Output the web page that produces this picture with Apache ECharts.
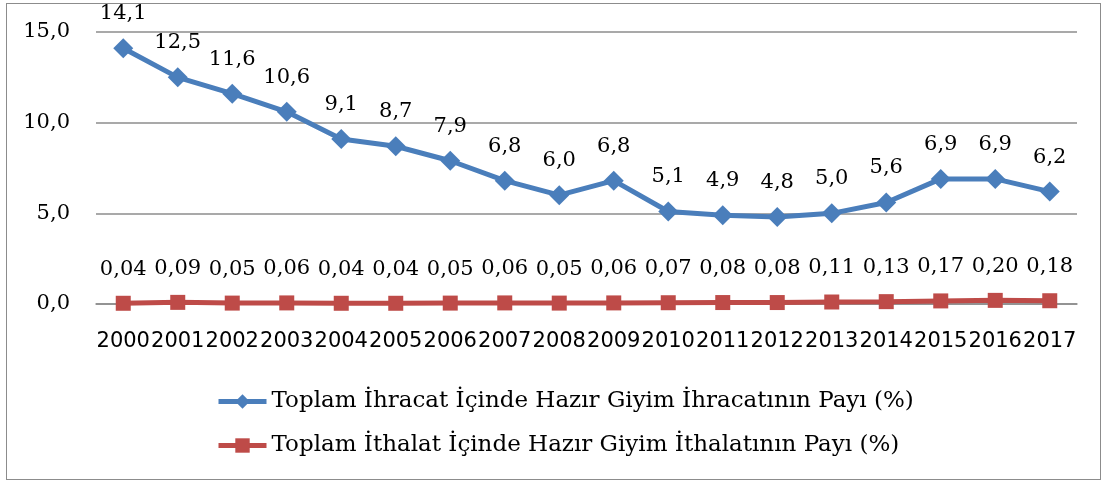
<!DOCTYPE html>
<html>
<head>
<meta charset="utf-8">
<script src="https://cdn.jsdelivr.net/npm/echarts@6/dist/echarts.min.js"></script>
<style>
  html, body { margin: 0; padding: 0; background: #fff; }
  #frame { position: absolute; left: 6px; top: 3px; width: 1093px; height: 475px; border: 1px solid #8c8c8c; }
  #chart { position: absolute; left: 0; top: 0; width: 1106px; height: 481px; }
</style>
</head>
<body>
<div id="frame"></div>
<div id="chart"></div>
<script>
var years = ['2000', '2001', '2002', '2003', '2004', '2005', '2006', '2007', '2008',
  '2009', '2010', '2011', '2012', '2013', '2014', '2015', '2016', '2017']
var ihracatPayi = [14.1, 12.5, 11.6, 10.6, 9.1, 8.7, 7.9, 6.8, 6.0, 6.8, 5.1, 4.9, 4.8, 5.0, 5.6, 6.9, 6.9, 6.2]
var ithalatPayi = [0.04, 0.09, 0.05, 0.06, 0.04, 0.04, 0.05, 0.06, 0.05, 0.06, 0.07, 0.08, 0.08, 0.11, 0.13, 0.17, 0.20, 0.18]
var seriesNames = ['Toplam İhracat İçinde Hazır Giyim İhracatının Payı (%)',
  'Toplam İthalat İçinde Hazır Giyim İthalatının Payı (%)']

var serif = 'DejaVu Serif'
var myChart = echarts.init(document.getElementById('chart'))

var option = {
  animation: false,
  color: ['#4a7ebb', '#be4b48'],
  grid: { left: 96, right: 29, top: 32, bottom: 177 },
  legend: {
    orient: 'vertical',
    left: 211,
    top: 385,
    itemWidth: 48,
    itemHeight: 18,
    itemGap: 21,
    lineStyle: { width: 5 },
    textStyle: { fontFamily: serif, fontSize: 23, color: '#000' },
    data: seriesNames
  },
  xAxis: {
    type: 'category',
    boundaryGap: true,
    data: years,
    axisLine: { lineStyle: { color: '#8c8c8c', width: 1.5 } },
    axisTick: { show: false },
    axisLabel: {
      interval: 0,
      margin: 27,
      fontFamily: 'DejaVu Sans',
      fontSize: 21,
      color: '#000'
    }
  },
  yAxis: {
    type: 'value',
    min: 0,
    max: 15,
    interval: 5,
    axisLine: { show: false },
    axisTick: { show: false },
    splitLine: { lineStyle: { color: '#8c8c8c', width: 1.5 } },
    axisLabel: {
      margin: 26,
      fontFamily: serif,
      fontSize: 21,
      color: '#000',
      formatter: function (v) { return v.toFixed(1).replace('.', ',') }
    }
  },
  series: [
    {
      name: seriesNames[0],
      type: 'line',
      data: ihracatPayi,
      symbol: 'diamond',
      symbolSize: 20,
      lineStyle: { width: 5 },
      label: {
        show: true,
        position: 'top',
        distance: 14,
        fontFamily: serif,
        fontSize: 21,
        color: '#000',
        formatter: function (p) { return p.value.toFixed(1).replace('.', ',') }
      }
    },
    {
      name: seriesNames[1],
      type: 'line',
      data: ithalatPayi,
      symbol: 'rect',
      symbolSize: 15,
      lineStyle: { width: 5 },
      label: {
        show: true,
        position: 'top',
        distance: 16,
        fontFamily: serif,
        fontSize: 21,
        color: '#000',
        formatter: function (p) { return p.value.toFixed(2).replace('.', ',') }
      }
    }
  ]
}
myChart.setOption(option)
</script>
</body>
</html>
